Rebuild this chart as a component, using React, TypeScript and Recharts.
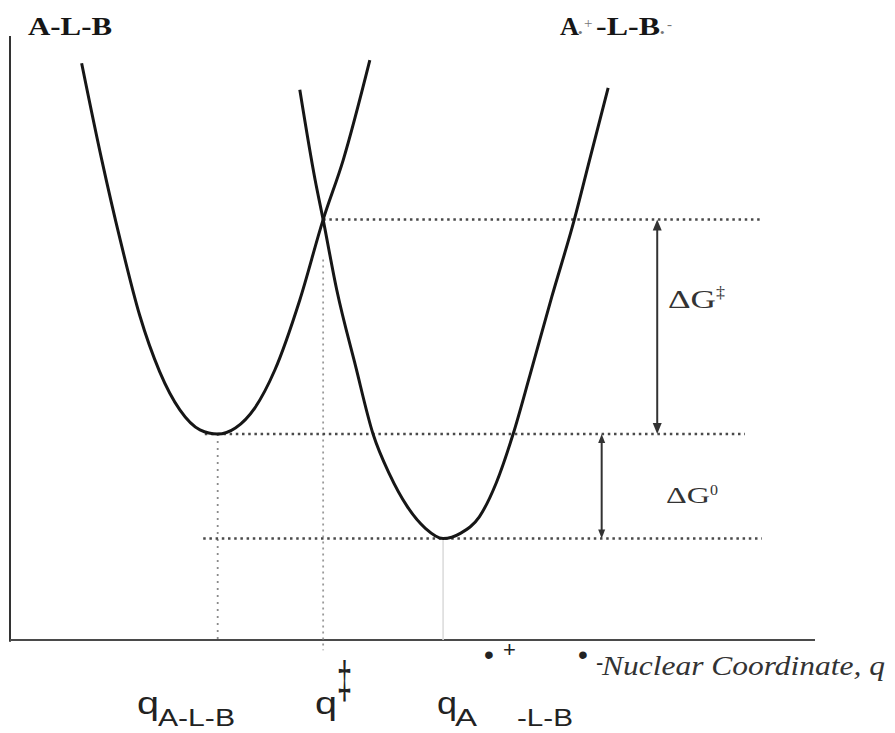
import { ComposedChart, Line, XAxis, YAxis, ReferenceLine, Customized } from "recharts";

// free-energy wells along the nuclear coordinate (q in arbitrary units, G in arbitrary units)
// A-L-B ground state well
const REACT_Q = [8.9, 11.4, 13.7, 16.1, 18.6, 21.1, 23.6, 25.8, 28.0, 30.4, 32.9, 36.0, 38.9, 41.4, 44.7];
const REACT_G = [95.5, 79.5, 66.2, 53.8, 44.4, 38.1, 34.8, 34.1, 35.1, 38.4, 44.7, 56.3, 69.6, 79.5, 96.0];

// charge separated A•+-L-B•- well
const CS_Q = [36.0, 37.9, 38.9, 40.6, 42.9, 45.1, 47.2, 49.3, 51.6, 53.8, 56.0, 58.3, 60.4, 62.5, 64.6, 67.3, 70.1, 72.0, 74.3];
const CS_G = [91.1, 76.2, 69.6, 57.9, 45.5, 34.1, 27.3, 22.2, 18.5, 16.8, 17.7, 20.4, 26.0, 34.1, 43.9, 56.8, 69.6, 79.5, 91.4];

// minima and crossing point
const Q_REACT = 25.8;
const Q_CROSS = 38.9;
const Q_CS = 53.8;
const G_REACT = 34.1;
const G_CROSS = 69.6;
const G_CS = 16.8;

const react = REACT_Q.map((q, i) => ({ q, G: REACT_G[i] }));
const cs = CS_Q.map((q, i) => ({ q, G: CS_G[i] }));

const DOTS = { stroke: "#4a4a4a", strokeWidth: 2.5, strokeDasharray: "2.5 3.7" };
const SERIF = "'Liberation Serif', 'Times New Roman', serif";
const SANS = "'Liberation Sans', Arial, sans-serif";

function DoubleArrow(p: any) {
  const { x1, y1, y2, head = 10, half = 4 } = p;
  const top = Math.min(y1, y2);
  const bot = Math.max(y1, y2);
  return (
    <g>
      <line x1={x1} y1={top + head - 2} x2={x1} y2={bot - head + 2} stroke="#333" strokeWidth={2} />
      <polygon points={`${x1},${top} ${x1 - half},${top + head} ${x1 + half},${top + head}`} fill="#333" />
      <polygon points={`${x1},${bot} ${x1 - half},${bot - head} ${x1 + half},${bot - head}`} fill="#333" />
    </g>
  );
}

function T({ x, y, size, w, children, ...rest }: any) {
  return (
    <text x={x} y={y} fontSize={size} textLength={w} lengthAdjust={w ? "spacingAndGlyphs" : undefined} {...rest}>
      {children}
    </text>
  );
}

function Labels() {
  return (
    <g>
      {/* state labels */}
      <g fontFamily={SERIF} fontWeight="bold" fill="#161616">
        <T x={28} y={35} size={25} w={84}>A-L-B</T>
        <T x={560} y={35} size={25} w={19}>A</T>
        <T x={596} y={35} size={25} w={64}>-L-B</T>
      </g>
      <g fontFamily={SERIF} fill="#777">
        <T x={578} y={37} size={13}>•</T>
        <T x={584} y={28} size={15}>+</T>
        <T x={660} y={37} size={13}>•</T>
        <T x={667} y={29} size={15}>-</T>
      </g>

      {/* barrier and driving force */}
      <g fontFamily={SERIF} fill="#333">
        <T x={668} y={308} size={26} w={48}>ΔG</T>
        <T x={716} y={298} size={16} w={9}>‡</T>
        <T x={666} y={503} size={24} w={44}>ΔG</T>
        <T x={710} y={495} size={15} w={8}>0</T>
      </g>

      {/* coordinate markers */}
      <g fontFamily={SANS} fill="#222">
        <T x={137} y={714} size={32} w={22}>q</T>
        <T x={158} y={726} size={24} w={77}>A-L-B</T>
        <T x={315} y={714} size={32} w={22}>q</T>
        <T x={337} y={698} size={52} w={15}>‡</T>
        <T x={437} y={714} size={32} w={20}>q</T>
        <T x={455} y={726} size={24} w={22}>A</T>
        <T x={484} y={664} size={28}>•</T>
        <T x={503} y={657} size={22}>+</T>
        <T x={517} y={726} size={24} w={56}>-L-B</T>
        <T x={578} y={664} size={28}>•</T>
        <T x={596} y={670} size={22}>-</T>
      </g>

      <T x={602} y={675} size={28} w={283} fontFamily={SERIF} fontStyle="italic" fill="#333">
        Nuclear Coordinate, q
      </T>
    </g>
  );
}

export default function App() {
  return (
    <div style={{ position: "absolute", left: 0, top: 0, background: "#fff" }}>
      <ComposedChart width={895} height={733} margin={{ top: 36, right: 80, bottom: 93, left: 10 }}>
        <XAxis type="number" dataKey="q" domain={[0, 100]} hide allowDataOverflow />
        <YAxis type="number" domain={[0, 100]} hide allowDataOverflow />

        {/* axes */}
        <ReferenceLine segment={[{ x: 0, y: -0.3 }, { x: 0, y: 100 }]} stroke="#333" strokeWidth={2} ifOverflow="visible" />
        <ReferenceLine segment={[{ x: 0, y: 0 }, { x: 100, y: 0 }]} stroke="#4a4a4a" strokeWidth={2} ifOverflow="visible" />

        {/* drop lines to the coordinate axis */}
        <ReferenceLine segment={[{ x: Q_REACT, y: G_REACT }, { x: Q_REACT, y: 0 }]} stroke="#8a8a8a" strokeWidth={1.8} strokeDasharray="2 5" ifOverflow="visible" />
        <ReferenceLine segment={[{ x: Q_CROSS, y: 63 }, { x: Q_CROSS, y: -1.7 }]} stroke="#9a9a9a" strokeWidth={1.8} strokeDasharray="2 4" ifOverflow="visible" />
        <ReferenceLine segment={[{ x: Q_CS, y: G_CS }, { x: Q_CS, y: 0 }]} stroke="#dcdcdc" strokeWidth={1.6} ifOverflow="visible" />

        {/* energy levels */}
        <ReferenceLine segment={[{ x: Q_CROSS, y: G_CROSS }, { x: 93.2, y: G_CROSS }]} {...DOTS} ifOverflow="visible" />
        <ReferenceLine segment={[{ x: 24.2, y: G_REACT }, { x: 91.3, y: G_REACT }]} {...DOTS} ifOverflow="visible" />
        <ReferenceLine segment={[{ x: 24.0, y: G_CS }, { x: 93.4, y: G_CS }]} {...DOTS} ifOverflow="visible" />

        <ReferenceLine
          segment={[{ x: 80.4, y: G_CROSS }, { x: 80.4, y: G_REACT }]}
          ifOverflow="visible"
          shape={(p: any) => <DoubleArrow {...p} head={11} half={4.5} />}
        />
        <ReferenceLine
          segment={[{ x: 73.5, y: G_REACT }, { x: 73.5, y: G_CS }]}
          ifOverflow="visible"
          shape={(p: any) => <DoubleArrow {...p} head={9} half={3.5} />}
        />

        <Line data={react} dataKey="G" type="monotone" stroke="#161616" strokeWidth={3} dot={false} isAnimationActive={false} />
        <Line data={cs} dataKey="G" type="monotone" stroke="#161616" strokeWidth={3} dot={false} isAnimationActive={false} />

        <Customized component={<Labels />} />
      </ComposedChart>
    </div>
  );
}
